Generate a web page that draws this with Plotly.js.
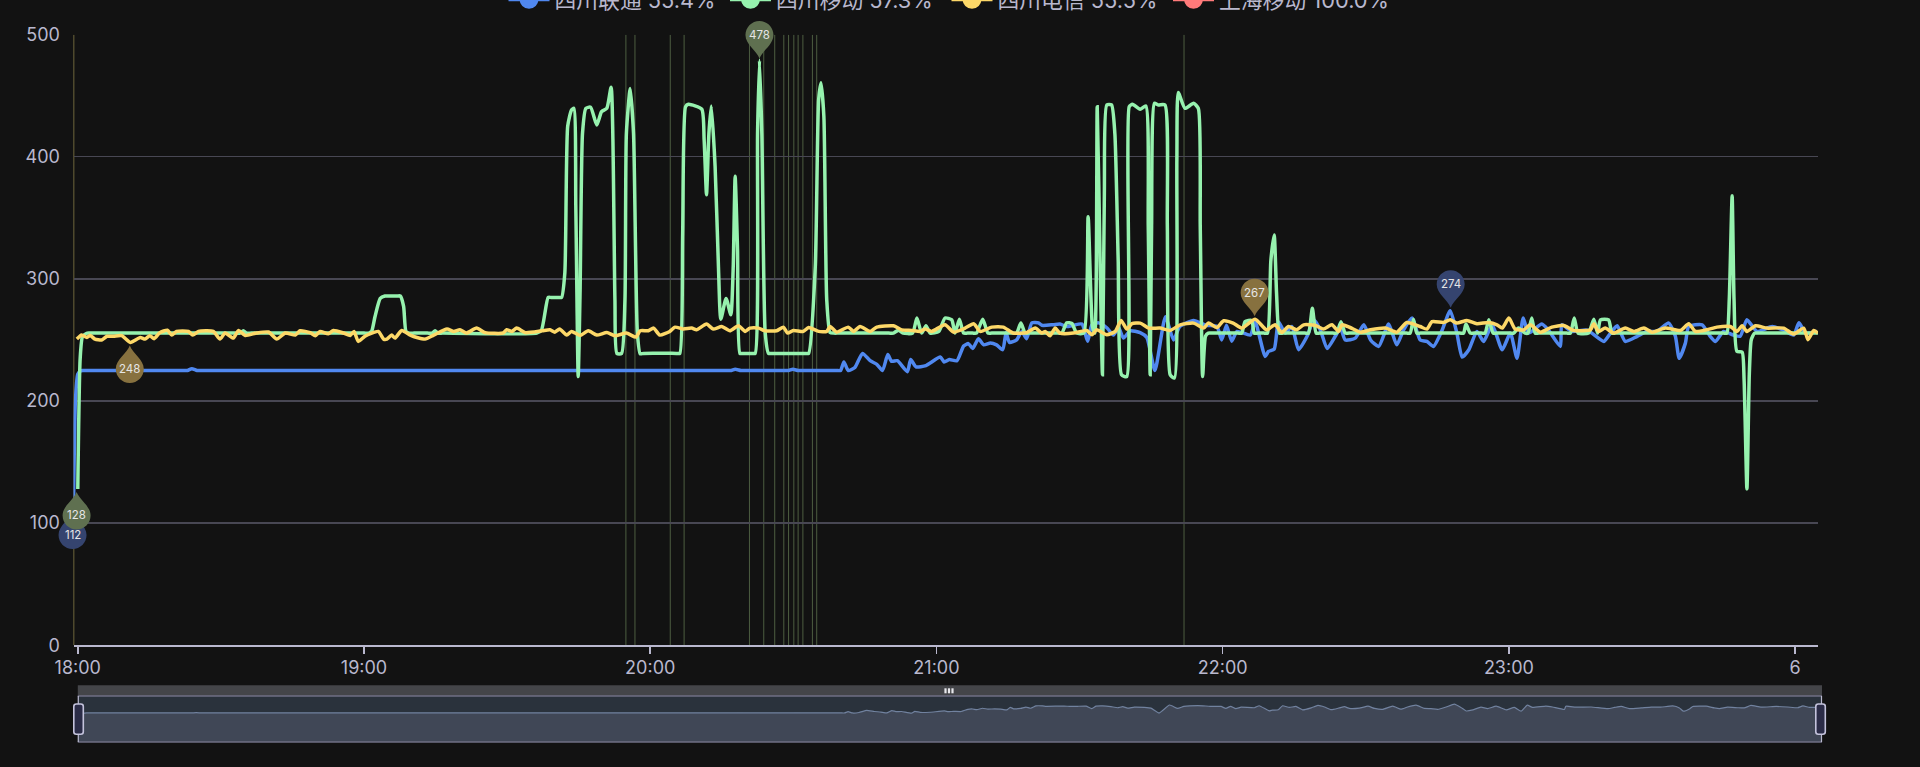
<!DOCTYPE html>
<html>
<head>
<meta charset="utf-8">
<script src="https://cdn.plot.ly/plotly-3.0.1.min.js"></script>
<style>html,body{margin:0;padding:0;background:#121212;overflow:hidden}#chart{width:1920px;height:767px}</style>
</head>
<body>
<div id="chart"></div>
<script>
// ---------- data (minutes after 18:00) ----------
const seriesNames = ['四川联通 55.4%', '四川移动 57.3%', '四川电信 55.5%', '上海移动 100.0%'];
const blueMin = [-0.9,-0.5,0,0.5,1,23,23.9,25,137,137.8,139,149,149.9,151,155.6,159.1,159.9,160.6,161.5,162.9,164.5,166.1,167.5,168.7,169.8,170.6,171.8,173.9,174.6,175.7,177.8,180.8,181.6,182.7,184.3,185.7,186.7,187.6,188.8,189.9,191.3,192.6,193.9,194.6,195.3,196.8,197.9,198.9,200,201.4,202.1,204.5,205.9,207.3,208.7,210.5,211.7,212.6,214,215.7,217.1,218.2,219.2,220.6,222.7,224.1,225.8,228,229.7,231,233.9,236.5,238.8,239.8,240.8,241.9,243,245.8,246.8,248.9,249.6,250.8,251.7,253.1,254.5,255.9,257.7,259.1,260.5,261.9,263.6,264.7,265.7,267.8,269.6,271,272.7,274.8,276.5,277.9,279.7,281.4,282.8,284.2,286,287.7,289.1,290.2,291.6,293.3,294.7,296.5,298.6,300.3,301.7,303,304.1,306.9,308.3,310.8,311.1,313.2,316.4,319.9,321.3,322.7,324.4,326.9,329,331,333.5,334.9,335.7,337,337.7,340.5,342.2,343.3,345,347.1,348.5,349.9,352,355.2,357.6,359.7,360.8,362.2,364.6];
const blueVal = [112,200,222,224.5,225,225,226.5,225,225,226,225,225,226,225,225,225,225,232,225,227.5,239,233,230,225,238,232.5,233,224,234,228,229,236,232,234,233,245,247,243,251,246,247.5,246,242,256,248,250,257,251,264,264,262,262.5,263,261,262,263,249,262.5,264,260,254,260,251.5,257.5,256,252,225,269,250,261,266,262,261,250,262,249,257,254,265,236.5,240.6,242.5,265,255.6,261,242,253,266.5,258,243,253,259.7,250,251.5,262.4,250,244.7,263,246,258,268,250,248.8,244.7,258,274,255.6,236,242,257,248.8,262.4,242,255.6,235,268,255.6,263,258,244.7,262.4,257,258,248.8,255.6,261.6,248.8,253,257,257,263.8,253,235,247.4,261,262.4,253,248.8,257,254,253,266.5,257,261,258,254,264,255.6,257];
const bluePlateauMin = [2,22,26,136,140,148,152,154.6,156.5,158.3];
const bluePlateauVal = [225,225,225,225,225,225,225,225,225,225];
const greenMin = [0,0.5,1,2,34,34.7,35.4,61,61.6,62.3,63.4,64.4,67.6,68.3,68.8,69.5,74.3,74.9,75.5,97.2,98.6,101.4,102.1,102.7,103.5,104,104.4,104.9,105.3,105.8,106.5,107.5,108.8,109.8,110.9,111.8,112.6,113,114,114.7,115,115.8,116.5,117.3,117.9,126.2,126.8,127.4,128,130.8,131.3,131.8,132.3,132.8,133.6,134.3,134.8,135.9,136.9,137.4,137.8,138.3,138.8,142,142.5,142.9,143.4,144.1,144.8,153.2,154.6,155.3,155.8,156.4,157,157.7,158.5,171,172,173,175,175.9,176.9,177.8,178.7,180.5,181.8,183.2,183.9,184.8,185.7,188.4,189.7,190.8,196.8,197.7,198.6,206.3,207.3,208.4,209.4,210.9,211.8,212.7,213.2,213.7,214.3,214.8,215.2,215.7,216.7,217.4,218.1,218.8,219.9,220.4,221.1,222.7,223.9,224.4,224.8,225.1,225.7,226.5,227.9,228.4,229,229.9,230.4,230.7,232.1,233.9,234.9,235.3,235.8,236.4,237,244,244.7,246.1,246.6,249.4,250.1,250.8,251.3,251.9,258,258.8,259.6,263.9,264.8,265.7,279.3,280,280.7,290.5,291,291.9,295,295.8,296.7,301,302,303.4,304,304.8,305.5,312.9,313.7,314.5,316.7,317.8,318.6,319.2,320.9,321.6,345.7,346.2,346.8,347.2,347.8,348.9,349.3,349.9,350.4,350.8,351.5,364.8];
const greenVal = [128,235,253,255.6,255.6,257.5,255.6,255.6,257,269,284,286,286,277.5,257,255.6,255.6,257.5,255.6,258,284.8,284.8,305,425,438.4,439.7,359,220,291,419,439.7,440.6,426,437,439.7,457,283,239,239,283,419,456,419,256,238.7,239,337,441,443,439,414,369,419,441.6,392,310,267,284,270.6,310,384,324,239,239,419,479,419,256,239,239,310,446.6,460.7,433,283,256,255.6,255.6,258,255.6,255.6,268,255.6,261.6,255.6,257,268,266.5,255.6,267,255.6,255.6,267,255.6,255.6,263.8,255.6,255.6,264,263.5,255.6,255.6,351,261,255.6,441,315,221.5,370,442.5,442.5,419,315,221.5,220,441,443,439,441.6,343,221.5,343,443.8,442.5,442.5,343,221.5,218.8,397.5,452.6,439.7,443.8,439.7,343,220,253,255.6,255.6,265,266,255.6,255.6,315,336,288,255.6,255.6,276,255.6,255.6,265,255.6,255.6,267,255.6,255.6,263,255.6,255.6,266.5,255.6,255.6,259.7,255.6,255.6,268,255.6,255.6,268,255.6,255.6,267,255.6,266.5,266.5,255.6,255.6,283,368,283,240.6,240,218,128,222,250,255.6,255.6];
const greenPlateauMin = [3,33,36.4,60,65,67,70.5,73.3,76.5,96.2,99.2,100.8,118.6,125.5,139.4,141.4,145.6,152.4,159.5,170,186.5,187.6,191.6,196,199.4,205.5,237.8,243.2,247.4,248.6,252.7,257.2,260.4,263.1,266.5,278.5,281.5,289.7,292.7,294.2,297.5,300.2,306.3,312.1,322.4,344.9,352.3];
const greenPlateauVal = [255.6,255.6,255.6,255.6,286,286,255.6,255.6,255.6,255.6,284.8,284.8,239,239,239,239,239,239,255.6,255.6,255.6,255.6,255.6,255.6,255.6,255.6,255.6,255.6,255.6,255.6,255.6,255.6,255.6,255.6,255.6,255.6,255.6,255.6,255.6,255.6,255.6,255.6,255.6,255.6,255.6,255.6,255.6];
const yellowMin = [-0.2,0.8,1.9,2.6,3.6,5,6.1,7.5,9.2,11,13.1,14.1,15.1,16,17.2,18.8,19.7,20.7,23.2,24.1,25.3,28.4,29.8,30.9,32.6,33.7,35.1,37.5,40,41.7,43.5,45.6,46.6,48.7,49.8,50.8,52.5,53.6,55.7,57.1,57.9,58.8,60.2,63,64.1,64.8,65.8,66.5,67.9,69.7,71.1,72.8,74.6,77.4,78.8,80.1,81.5,83.6,85.4,89.2,89.9,91,92,93.8,97.3,99,100,101,102.5,103.5,105.3,107,108.8,110.9,112.6,115,117,117.9,119.6,120.7,122,124.1,125.2,126.9,128.7,129.7,131.8,133.2,135,136.7,138.5,139.9,140.9,142.7,144,146.5,147.9,148.8,150,152.1,153.2,155.3,157,157.7,159.1,161.5,162.6,164,166.1,167.5,171,172.7,174.8,176.6,177.6,179,181.8,183.6,186,187.8,189.2,191.6,194,196.1,198.9,200.7,202.1,202.8,203.8,204.9,205.9,208.7,211.5,212.6,213.6,215.7,217.5,218.7,219.9,221,222.7,224.5,226.9,229,231.1,233.9,236,237,238.8,240.2,242.2,244,246.8,249.2,251,252.4,253.8,255.5,257,259.4,261.1,262.9,264.3,265,266.7,268.9,271,274.1,276.5,278.6,281.4,282.8,283.9,286.3,287.7,289.1,291.2,293.3,295.8,297.5,298.6,300,301.3,303.1,304.5,306.6,309,311.5,313.6,317.1,317.8,318.8,320.2,322,324.4,326.2,328.3,330,332.8,336,337.7,339.1,341.5,343.6,346.4,347.8,348.9,349.9,351.7,354.1,357.6,359.7,361.8,362.7,363.9,364.8];
const yellowVal = [250.7,254,252,253.7,250.7,250,253,253,253.5,248,252,250.7,253.5,251,256,258,254,257,257,254,257,257,250.7,255.7,251.5,257.8,253.7,255.7,256.5,250.7,255.7,254,257.5,256,253.5,257,255,257.8,255.7,253.7,257,248.8,253,257,250.7,250.7,254,251.5,257.8,254,252,250.7,254,259,257,258.4,255.7,259.7,256,255.7,258.4,257,259.7,256,257.5,258.3,256.4,258.9,254,257,253.7,257.5,254,256,253.4,255.6,252.3,257.5,257.5,259.7,254,257,260.5,259,259.7,258.3,263,258.9,261,257.5,261.6,257,259.7,259.7,257.5,257.5,260.5,255.6,257.8,257,260.2,257,257,261,256.4,260.5,257,261,257,260.5,261.6,258.3,257.8,257,258.9,257,262.4,256.4,259.7,263.3,257,260.5,260.5,255.6,256,259.7,255.6,257,253.4,259.7,255.6,255.6,257.8,254.3,258.3,254.3,257,266,258.9,263.3,263.8,259.7,259.7,257.8,262.4,263.8,259.7,263.8,260.2,265.7,263.8,259.7,267,258.3,262.4,256.1,261,258.3,262.4,261.9,258.9,262.4,257,262.4,260.2,256.4,258.3,259.7,256.4,264.3,261,258.9,265,264.3,266.5,263.8,266,263.3,264.3,262.4,259.7,267.9,258.9,258.3,262.4,256.4,260.5,261.9,257.8,258.3,263.3,257,259.7,255.6,259.7,257,259.7,256.4,259.7,257.8,263.3,257,258.3,260.5,261,257,261.6,257,261.6,259.7,259.7,254.8,259.7,250.2,257.8,255.6];
const markLineMin = [114.9,116.8,124.2,127.1,140.8,143.8,146.1,148,149,150.1,151,152,154,154.9,231.9];
const firstLineMin = [-0.9];
const pinMin = [-1.1,287.8,-0.25,142.9,10.9,246.7];
const pinVal = [112,274,128,478,248,267];
const pinText = ['112','274','128','478','248','267'];
const pinIsMin = [true,false,true,false,true,false];
const pinFill = ['#35446f','#35446f','#5f7050','#5f7050','#87713f','#87713f'];
const hourMin = [0,60,120,180,240,300,360];
const hourText = ['18:00','19:00','20:00','21:00','22:00','23:00','6'];
const yTicks = [0,100,200,300,400,500];

// ---------- page geometry ----------
const W = 1920, H = 767;
const L = 73.5, R = 1818, T = 34.7, B = 645.2;
const miniL = 77.8, miniR = 1822, miniT = 696, miniB = 742;
const xRange = [-0.9, 364.8], yRange = [0, 500];
const colors = ['#5088f0', '#96f2ae', '#fdd868', '#ff7a7a'];
const textColor = '#b9b8ce', gridColor = '#484753', bg = '#121212';
const fontFam = 'Inter, "Noto Sans CJK SC", sans-serif';
const at = m => new Date(Date.UTC(2024,0,5,18,0,0) + m*60000).toISOString();
const px = x => x / W, py = y => 1 - y / H;
const perMinX = (R-L)/(xRange[1]-xRange[0]), perValY = (B-T)/(yRange[1]-yRange[0]);
// overlay axes cover the whole page so pins may overhang the plot area
const overlayX = [xRange[0]-L/perMinX, xRange[1]+(W-R)/perMinX];
const overlayY = [yRange[0]-(H-B)/perValY, yRange[1]+T/perValY];

// joins a series with the readings taken along its flat stretches, in time order
const merged = (m1, v1, m2, v2) => {
  const rows = m1.map((m,i) => [m, v1[i]]).concat(m2.map((m,i) => [m, v2[i]])).sort((a,b) => a[0]-b[0]);
  return {m: rows.map(r => r[0]), v: rows.map(r => r[1])};
};
const blue = merged(blueMin, blueVal, bluePlateauMin, bluePlateauVal);
const green = merged(greenMin, greenVal, greenPlateauMin, greenPlateauVal);

const line = (name, mins, vals, c) => ({type:'scatter', mode:'lines', x:mins.map(at), y:vals, name,
  showlegend:false, hoverinfo:'skip', line:{color:c, width:3.5, shape:'spline', smoothing:0.55, simplify:false}});
const legendEntry = (name, c) => ({type:'scatter', mode:'lines+markers', x:[at(0)], y:[null], name,
  showlegend:true, line:{color:c, width:4}, marker:{color:c, size:16, line:{color:c, width:3}}});

const traces = [
  line(seriesNames[0], blue.m, blue.v, colors[0]),
  line(seriesNames[1], green.m, green.v, colors[1]),
  line(seriesNames[2], yellowMin, yellowVal, colors[2]),
  ...seriesNames.map((n,i) => legendEntry(n, colors[i])),
  {type:'scatter', mode:'lines', x:blue.m.map(at), y:blue.v, xaxis:'x2', yaxis:'y2', showlegend:false, hoverinfo:'skip',
    fill:'tozeroy', fillcolor:'#404756', line:{color:'#71829f', width:1.2, shape:'spline', smoothing:0.4}},
  {type:'scatter', mode:'markers', x:pinMin.map(at), y:pinVal, xaxis:'x3', yaxis:'y3', showlegend:false, hoverinfo:'skip',
    marker:{size:1, color:'rgba(0,0,0,0)'}}
];

// ---------- decorations ----------
const shapes = [];
markLineMin.forEach(m => shapes.push({type:'line', layer:'below', xref:'x', yref:'y', x0:at(m), x1:at(m), y0:0, y1:500, line:{color:'#4d5e41', width:1}}));
firstLineMin.forEach(m => shapes.push({type:'line', layer:'below', xref:'x', yref:'y', x0:at(m), x1:at(m), y0:0, y1:500, line:{color:'#8a8048', width:1.5}}));

const rr = (x0,y0,x1,y1,r) => { // rounded rectangle in page pixels
  const X = v => px(v), Y = v => py(v);
  return `M${X(x0+r)},${Y(y0)}L${X(x1-r)},${Y(y0)}Q${X(x1)},${Y(y0)} ${X(x1)},${Y(y0+r)}L${X(x1)},${Y(y1-r)}Q${X(x1)},${Y(y1)} ${X(x1-r)},${Y(y1)}L${X(x0+r)},${Y(y1)}Q${X(x0)},${Y(y1)} ${X(x0)},${Y(y1-r)}L${X(x0)},${Y(y0+r)}Q${X(x0)},${Y(y0)} ${X(x0+r)},${Y(y0)}Z`;
};
const pageRect = (x0,y0,x1,y1,fill,layer) => ({type:'rect', layer:layer||'below', xref:'paper', yref:'paper', x0:px(x0), x1:px(x1), y0:py(y0), y1:py(y1), fillcolor:fill, line:{width:0}});
shapes.push(pageRect(miniL, 685.3, miniR, miniT, '#444549'));
shapes.push(pageRect(miniL, miniT, miniR, miniB, '#2a323c'));
[[miniT],[miniB]].forEach(([y]) => shapes.push(pageRect(miniL, y-0.8, miniR, y+0.8, '#6f6f85', 'above')));
[miniL+0.5, miniR-0.5].forEach(x => shapes.push(pageRect(x-0.6, miniT, x+0.6, miniB, '#b9b8ce', 'above')));
[[73.8,83.3],[1815.8,1825.3]].forEach(([a,b]) => shapes.push({type:'path', layer:'above', xref:'paper', yref:'paper', path:rr(a,704,b,734.3,2.5), fillcolor:'#2b2c47', line:{color:'#c4c3dc', width:1.6}}));
[945.5,949,952.5].forEach(x => shapes.push(pageRect(x-1.1, 688.3, x+1.1, 693.3, '#e8e8ec', 'above')));

// pins: tip near the value, drawn in pixels, anchored through the overlay axes
const pinUp = 'M0,3C-3,11 -14,17 -14,26.5C-14,34.2 -7.7,40.5 0,40.5C7.7,40.5 14,34.2 14,26.5C14,17 3,11 0,3Z';
const pinDown = 'M0,-3C-3,-11 -14,-17 -14,-26.5C-14,-34.2 -7.7,-40.5 0,-40.5C7.7,-40.5 14,-34.2 14,-26.5C14,-17 3,-11 0,-3Z';
const annotations = [];
pinMin.forEach((m,i) => {
  shapes.push({type:'path', layer:'above', xref:'x3', yref:'y3', xsizemode:'pixel', ysizemode:'pixel',
    xanchor:at(m), yanchor:pinVal[i], path:pinIsMin[i]?pinDown:pinUp, fillcolor:pinFill[i], line:{width:0}});
  annotations.push({xref:'x3', yref:'y3', x:at(m), y:pinVal[i], yshift:pinIsMin[i]?-26.5:26.5, text:pinText[i], showarrow:false,
    font:{family:fontFam, size:11.5, color:'#e6e6e6'}});
});

const layout = {
  width:W, height:H, paper_bgcolor:bg, plot_bgcolor:'rgba(0,0,0,0)', showlegend:true,
  margin:{l:0, r:0, t:0, b:0, pad:0, autoexpand:false},
  font:{family:fontFam, color:textColor},
  legend:{orientation:'h', x:px(503.5), xanchor:'left', y:py(-0.5), yanchor:'middle', itemwidth:41, entrywidth:165.5, entrywidthmode:'pixels',
    font:{family:fontFam, size:21.8, color:textColor}, bgcolor:'rgba(0,0,0,0)', borderwidth:0, itemclick:false, itemdoubleclick:false},
  xaxis:{type:'date', domain:[px(L),px(R)], range:xRange.map(at), anchor:'y', tickmode:'array', tickvals:hourMin.map(at), ticktext:hourText,
    showgrid:false, zeroline:false, showline:true, linecolor:textColor, linewidth:2, ticks:'outside', ticklen:7, tickwidth:1.5, tickcolor:textColor,
    ticklabelstandoff:-2, tickfont:{family:fontFam, size:18, color:textColor}, fixedrange:true},
  yaxis:{domain:[py(B),py(T)], range:yRange, anchor:'x', tickmode:'array', tickvals:yTicks, showgrid:true, gridcolor:gridColor, gridwidth:1.3,
    zeroline:false, showline:false, ticks:'outside', ticklen:9, tickcolor:'rgba(0,0,0,0)', tickfont:{family:fontFam, size:18, color:textColor}, fixedrange:true},
  xaxis2:{type:'date', domain:[px(miniL),px(miniR)], range:xRange.map(at), anchor:'y2', visible:false, fixedrange:true},
  yaxis2:{domain:[py(miniB),py(miniT)], range:[64,319], anchor:'x2', visible:false, fixedrange:true},
  xaxis3:{type:'date', domain:[0,1], range:overlayX.map(at), anchor:'y3', visible:false, fixedrange:true},
  yaxis3:{domain:[0,1], range:overlayY, anchor:'x3', visible:false, fixedrange:true},
  shapes, annotations
};
Plotly.newPlot('chart', traces, layout, {staticPlot:true, displayModeBar:false, responsive:false});
</script>
</body>
</html>
